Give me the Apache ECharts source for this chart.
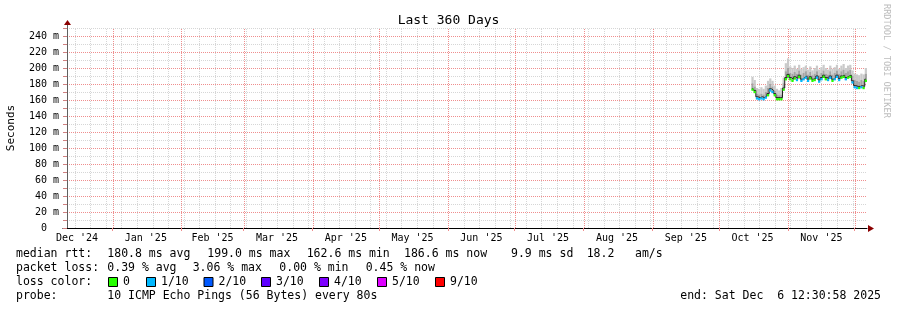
<!DOCTYPE html>
<html><head><meta charset="utf-8">
<script src="https://cdn.jsdelivr.net/npm/echarts@6/dist/echarts.min.js"></script>
<style>html,body{margin:0;padding:0;background:#fff}#c{width:897px;height:310px}</style>
</head><body><div id="c"></div>
<script>
const titleText = 'Last 360 Days';
const yAxisName = 'Seconds';
const rangeStart = '2024-12-11T12:30:58Z';
const rangeEnd = '2025-12-06T12:30:58Z';
const yMax = 250;
const monthStarts = ['2025-01-01','2025-02-01','2025-03-01','2025-04-01','2025-05-01','2025-06-01','2025-07-01','2025-08-01','2025-09-01','2025-10-01','2025-11-01','2025-12-01'];
const monthLabelDates = ['2024-12-16','2025-01-16','2025-02-15','2025-03-16','2025-04-16','2025-05-16','2025-06-16','2025-07-16','2025-08-16','2025-09-16','2025-10-16','2025-11-16'];
const monthLabels = ["Dec '24","Jan '25","Feb '25","Mar '25","Apr '25","May '25","Jun '25","Jul '25","Aug '25","Sep '25","Oct '25","Nov '25"];
const firstWeekLine = '2024-12-15';
const firstDay = '2025-10-16';
const median   = [175,172,164,163,164,163,165,168,174,172,168,163,163,163,175,188,192,188,186,189,187,191,186,188,190,186,189,186,187,190,185,188,191,188,187,190,186,188,191,187,190,191,188,190,191,184,178,177,177,178,177,186];
const smokeMin = [173,170,162,161,162,161,163,166,171,170,166,161,161,161,172,185,187,185,184,186,185,187,184,186,187,184,186,184,185,187,183,185,188,185,185,187,184,185,188,185,187,188,185,187,188,181,175,175,175,175,175,183];
const smokeMid = [181,177,168,167,168,167,170,175,180,177,172,167,166,167,181,196,200,194,193,195,193,197,192,194,196,192,195,191,193,196,191,194,197,193,192,196,192,194,197,193,196,198,194,196,198,190,185,184,183,185,184,193];
const smokeMax = [189,185,175,174,176,174,178,184,187,184,178,174,172,175,188,206,212,202,200,203,199,204,199,201,203,198,202,197,200,203,198,201,204,200,198,203,199,201,204,199,203,205,200,203,204,197,193,192,191,193,192,200];
const lossIndex = [0,0,1,1,1,1,1,0,1,1,0,0,0,0,0,0,0,0,0,0,1,0,1,1,1,1,0,0,0,1,1,1,0,0,1,1,0,1,1,1,0,0,1,0,0,1,1,1,0,1,0,0];
const lossLabels = ['0','1/10','2/10','3/10','4/10','5/10','9/10'];
const lossColors = ['#26ff00','#00b8ff','#0059ff','#5e00ff','#7e00ff','#dd00ff','#ff0000'];
const rttItems  = ['median rtt:', '180.8 ms avg', '199.0 ms max', '162.6 ms min', '186.6 ms now', '9.9 ms sd', '18.2', 'am/s'];
const lossItems = ['packet loss:', '0.39 % avg', '3.06 % max', '0.00 % min', '0.45 % now'];
const colorTitle = 'loss color:';
const probeItems = ['probe:', '10 ICMP Echo Pings (56 Bytes) every 80s'];
const endText = 'end: Sat Dec  6 12:30:58 2025';
const creditText = 'RRDTOOL / TOBI OETIKER';

// layout (pixel positions of legend pieces)
const rttX = [16, 107.3, 207.3, 306.7, 404, 511, 586.7, 635];
const lossX = [16, 107.3, 192.7, 279.3, 365.7];
const probeX = [16, 107.3];
const boxX = [108, 146, 203.5, 261, 319, 377, 435];
const lineY = [254, 268, 282, 296.5];

const MONO = 'DejaVu Sans Mono';
const LEG_FS = 11.5;
const DAY = 86400000;
const tMin = Date.parse(rangeStart), tMax = Date.parse(rangeEnd);
const t0 = Date.parse(firstDay + 'T00:00:00Z');
const times = median.map((_, i) => t0 + i * DAY);

const weekLines = [];
for (let t = Date.parse(firstWeekLine + 'T00:00:00Z'); t < tMax; t += 7 * DAY) weekLines.push(t);
const monthLines = monthStarts.map(d => Date.parse(d + 'T00:00:00Z'));
const labelTimes = monthLabelDates.map(d => Date.parse(d + 'T00:00:00Z'));

const minorGrid = '#d6d6d6', majorGrid = '#ef8e8e';

function colRect(api, t, lo, hi) {
  const a = api.coord([t - DAY / 2, hi]);
  const b = api.coord([t + DAY / 2, lo]);
  return {x: a[0], y: a[1], width: b[0] - a[0], height: b[1] - a[1]};
}

const vGrid = weekLines.map(t => [t, 0]).concat(monthLines.map(t => [t, 1]));

const chart = echarts.init(document.getElementById('c'), null, {renderer: 'canvas'});
chart.setOption({
  animation: false,
  backgroundColor: '#ffffff',
  title: {text: titleText, left: 'center', top: 9, textStyle: {fontFamily: MONO, fontSize: 13, fontWeight: 'normal', color: '#000'}},
  grid: {left: 67, right: 30, top: 28, bottom: 82, containLabel: false, outerBoundsMode: 'none'},
  xAxis: {
    type: 'value', min: tMin, max: tMax, scale: true,
    axisLine: {show: true, onZero: false, lineStyle: {color: '#000', width: 1}},
    axisTick: {show: true, customValues: monthLines, length: 3, inside: false, lineStyle: {color: majorGrid}},
    axisLabel: {show: true, customValues: labelTimes, margin: 5, fontFamily: MONO, fontSize: 10, color: '#000',
      formatter: (v) => { const i = labelTimes.indexOf(v); return i >= 0 ? monthLabels[i] : ''; }},
    splitLine: {show: false}
  },
  yAxis: {
    type: 'value', min: 0, max: yMax, interval: 10,
    name: yAxisName, nameLocation: 'middle', nameGap: 50, nameRotate: 90,
    nameTextStyle: {fontFamily: MONO, fontSize: 11, color: '#000'},
    axisLine: {show: true, lineStyle: {color: '#606060', width: 1}},
    axisTick: {show: true, length: 4, lineStyle: {color: '#d08080'}},
    axisLabel: {margin: 8, fontFamily: MONO, fontSize: 10, color: '#000',
      formatter: (v) => v === 0 ? '0  ' : (v % 20 === 0 ? v + ' m' : '')},
    splitLine: {show: true, lineStyle: {color: [majorGrid, minorGrid], type: [1, 1], width: 1}}
  },
  series: [
    {
      type: 'custom', name: 'vgrid', z: 1, silent: true, clip: false,
      data: vGrid,
      renderItem: (params, api) => {
        const t = api.value(0), major = api.value(1);
        const p0 = api.coord([t, 0]), p1 = api.coord([t, yMax]);
        const x = Math.round(p0[0]) + 0.5;
        return {type: 'line', shape: {x1: x, y1: Math.round(p0[1]), x2: x, y2: Math.round(p1[1])},
          style: {stroke: major ? majorGrid : minorGrid, lineWidth: 1, lineDash: [1, 1]}};
      }
    },
    {
      type: 'custom', name: 'smoke', z: 2, silent: true, clip: true,
      data: times.map((t, i) => [t, smokeMin[i], smokeMid[i], smokeMax[i]]),
      renderItem: (params, api) => {
        const t = api.value(0), lo = api.value(1), mid = api.value(2), hi = api.value(3);
        return {type: 'group', children: [
          {type: 'rect', shape: colRect(api, t, mid, hi), style: {fill: '#cacaca'}},
          {type: 'rect', shape: colRect(api, t, lo, mid), style: {fill: '#a4a4a4'}}
        ]};
      }
    },
    {
      type: 'line', name: 'median', z: 3, symbol: 'none', silent: true, step: 'middle',
      lineStyle: {width: 1, color: '#202020'},
      data: times.map((t, i) => [t, median[i]])
    },
    {
      type: 'custom', name: 'loss', z: 4, silent: true, clip: true,
      data: times.map((t, i) => [t, median[i], lossIndex[i]]),
      renderItem: (params, api) => {
        const t = api.value(0), m = api.value(1), l = api.value(2);
        return {type: 'rect', shape: colRect(api, t, m - 3.5, m - 0.6), style: {fill: lossColors[l]}};
      }
    }
  ]
});

const o = chart.convertToPixel({gridIndex: 0}, [tMin, 0]);
const tr = chart.convertToPixel({gridIndex: 0}, [tMax, yMax]);
const x0 = Math.round(o[0]) + 0.5, y0 = Math.round(o[1]) + 0.5, x1 = Math.round(tr[0]), y1 = Math.round(tr[1]);
const arrowColor = '#8b0000';
const graphics = [
  {type: 'line', shape: {x1: x0, y1: y1, x2: x0, y2: y1 - 4}, style: {stroke: '#606060', lineWidth: 1}, silent: true},
  {type: 'polygon', shape: {points: [[x0 - 3.5, y1 - 3], [x0 + 3.5, y1 - 3], [x0, y1 - 8]]}, style: {fill: arrowColor}, silent: true},
  {type: 'line', shape: {x1: x0 - 5, y1: y0, x2: x0, y2: y0}, style: {stroke: '#000', lineWidth: 1}, silent: true},
  {type: 'polygon', shape: {points: [[x1 + 1, y0 - 3.5], [x1 + 1, y0 + 3.5], [x1 + 7, y0]]}, style: {fill: arrowColor}, silent: true},
  {type: 'text', x: 886, y: 4, rotation: -Math.PI / 2, silent: true,
    style: {text: creditText, fontFamily: MONO, fontSize: 8.6, fill: '#bdbdbd', textAlign: 'left', textVerticalAlign: 'middle'}}
];
function addText(s, x, y, align) {
  graphics.push({type: 'text', x: x, y: y, silent: true,
    style: {text: s, fontFamily: MONO, fontSize: LEG_FS, fill: '#000', textAlign: align || 'left', textVerticalAlign: 'middle'}});
}
rttItems.forEach((s, i) => addText(s, rttX[i], lineY[0]));
lossItems.forEach((s, i) => addText(s, lossX[i], lineY[1]));
addText(colorTitle, 16, lineY[2]);
lossLabels.forEach((lab, i) => {
  graphics.push({type: 'rect', shape: {x: boxX[i] + 0.5, y: lineY[2] - 4.5, width: 9, height: 9}, silent: true,
    style: {fill: lossColors[i], stroke: '#000', lineWidth: 1}});
  addText(lab, boxX[i] + 15, lineY[2]);
});
probeItems.forEach((s, i) => addText(s, probeX[i], lineY[3]));
addText(endText, 881, lineY[3], 'right');
chart.setOption({graphic: graphics});
</script>
</body></html>
